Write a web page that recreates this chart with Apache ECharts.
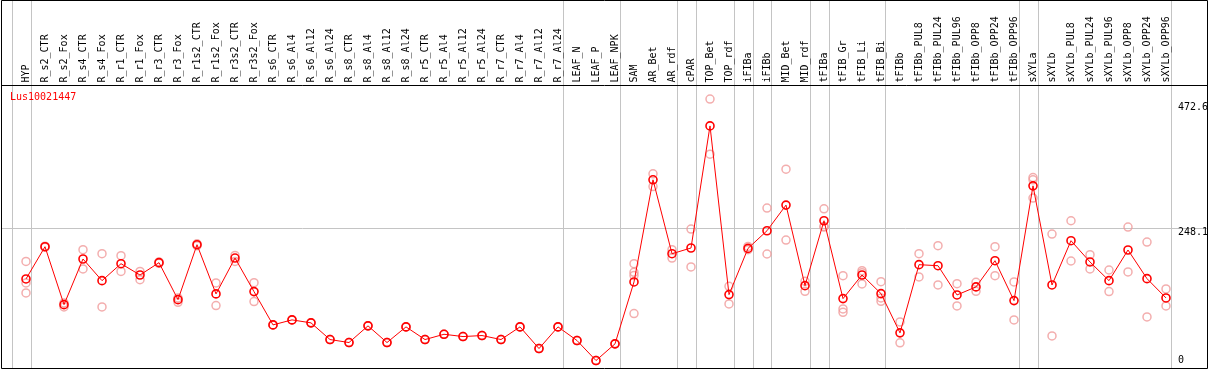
<!DOCTYPE html>
<html><head><meta charset="utf-8">
<script src="https://cdn.jsdelivr.net/npm/echarts@6/dist/echarts.min.js"></script>
<style>html,body{margin:0;padding:0;background:#fff}#c{width:1209px;height:370px}</style>
</head><body><div id="c"></div>
<script>
const chartTitle = 'Lus10021447';
const categories = ['HYP','R_s2_CTR','R_s2_Fox','R_s4_CTR','R_s4_Fox','R_r1_CTR','R_r1_Fox','R_r3_CTR','R_r3_Fox','R_r1s2_CTR','R_r1s2_Fox','R_r3s2_CTR','R_r3s2_Fox','R_s6_CTR','R_s6_Al4','R_s6_Al12','R_s6_Al24','R_s8_CTR','R_s8_Al4','R_s8_Al12','R_s8_Al24','R_r5_CTR','R_r5_Al4','R_r5_Al12','R_r5_Al24','R_r7_CTR','R_r7_Al4','R_r7_Al12','R_r7_Al24','LEAF_N','LEAF_P','LEAF_NPK','SAM','AR_Bet','AR_rdf','cPAR','TOP_Bet','TOP_rdf','iFIBa','iFIBb','MID_Bet','MID_rdf','tFIBa','tFIB_Gr','tFIB_Li','tFIB_Bi','tFIBb','tFIBb_PUL8','tFIBb_PUL24','tFIBb_PUL96','tFIBb_OPP8','tFIBb_OPP24','tFIBb_OPP96','sXYLa','sXYLb','sXYLb_PUL8','sXYLb_PUL24','sXYLb_PUL96','sXYLb_OPP8','sXYLb_OPP24','sXYLb_OPP96'];
const meanValues = [158.8,215.0,114.0,193.6,155.8,185.4,165.7,187.2,122.7,218.5,132.7,195.3,136.7,78.7,87.4,82.2,53.1,47.9,77.0,47.9,75.2,53.1,62.3,58.3,60.1,53.1,75.2,37.4,75.2,51.4,16.5,45.6,153.6,331.7,202.8,212.8,425.7,131.5,212.1,242.9,287.6,147.1,260.3,124.5,165.7,133.2,64.8,183.7,181.9,130.9,144.9,190.6,121.0,321.2,148.3,225.5,188.4,155.8,209.3,159.3,125.7];
const replicateValues = [
  [189.4,151.8,134.4],[214,216],[117.0,110.0],[209.8,176.2],[202.8,110.0],[199.3,172.0],[172.0,157.6],[188.5,186],[125.7,118.0],[220.2,216.8],
  [151.8,112.3],[199.9,189.4],[152.3,119.3],[78.7,78.7],[87.4,87.4],[82.2,82.2],[53.1,53.1],[47.9,47.9],[77.0,77.0],[47.9,47.9],
  [75.2,75.2],[53.1,53.1],[62.3,62.3],[58.3,58.3],[60.1,60.1],[53.1,53.1],[75.2,75.2],[37.4,37.4],[75.2,75.2],[51.4,51.4],
  [16.5,16.5],[45.6,45.6],[185.4,170.3,165.0,98.4],[342.1,320.0],[209.8,195.3],[245.8,179.7],[472.6,376.4],[145.9,115.3],[215.5,209.8],[282.4,202.3],
  [350.3,226.7],[154.6,137.2],[281.2,250.4,249.3],[164.5,106.5,100.6],[173.2,150.1,169.7],[154.1,125.7,119.8],[83.9,47.4],[202.8,162.3],[216.8,148.3],[150.6,111.8],
  [152.9,137.2],[215.0,164.5],[153.6,87.4],[335.7,331.7,299.8],[237.1,59.5],[260.3,190.1],[201.1,176.2],[174.4,136.7],[249.3,171.0],[223.2,92.6],
  [141.4,111.8]
];
const yTickLabels = [0, 248.1, 472.6];
const yAxisMax = 496.2;
const groupEnds = [-1, 0, 28, 31, 34, 35, 37, 38, 39, 41, 42, 45, 52, 53, 60];

const FONT = 'DejaVu Sans Mono';
const chart = echarts.init(document.getElementById('c'), null, {renderer: 'canvas'});
const repData = [];
replicateValues.forEach((arr, i) => arr.forEach(v => repData.push([i, v])));

chart.setOption({
  animation: false,
  backgroundColor: '#fff',
  grid: {left: 16.5, width: 1159, top: 85.5, bottom: -0.5, containLabel: false},
  xAxis: [
    {type: 'category', position: 'top', data: categories, boundaryGap: true,
     axisLine: {show: false}, axisTick: {show: false}, splitLine: {show: false},
     axisLabel: {rotate: 90, interval: 0, margin: 3, fontFamily: FONT, fontSize: 10, color: '#000'}},
    {type: 'value', min: -0.5, max: categories.length - 0.5, show: false}
  ],
  yAxis: {type: 'value', min: 0, max: yAxisMax, show: false, splitLine: {show: false}},
  series: [
    {type: 'scatter', xAxisIndex: 0, data: repData, symbol: 'circle', symbolSize: 8, z: 2,
     itemStyle: {color: 'rgba(0,0,0,0)', borderColor: '#f09a9a', borderWidth: 1.5}},
    {type: 'line', xAxisIndex: 0, data: meanValues, symbol: 'circle', symbolSize: 8, showSymbol: true, z: 3,
     lineStyle: {color: '#ff0000', width: 1},
     itemStyle: {color: 'rgba(0,0,0,0)', borderColor: '#ff0000', borderWidth: 1.6}}
  ]
});

const gfx = [];
const W = 1209;
// separators
groupEnds.forEach(i => {
  const x = Math.round(chart.convertToPixel({xAxisIndex: 1}, i + 0.5) - 5) + 0.5;
  gfx.push({type: 'line', z: 0, shape: {x1: x, y1: 0, x2: x, y2: 369}, style: {stroke: '#c4c4c4', lineWidth: 1}});
});
// gridline at middle tick
const gy = Math.round(chart.convertToPixel({yAxisIndex: 0}, yTickLabels[1])) + 0.5;
gfx.push({type: 'line', z: 0, shape: {x1: 1, y1: gy, x2: 1207, y2: gy}, style: {stroke: '#c4c4c4', lineWidth: 1}});
// y labels
yTickLabels.forEach((v, k) => {
  let y = chart.convertToPixel({yAxisIndex: 0}, v);
  let va = 'top';
  if (k === 0) { y = 365.5; va = 'bottom'; }
  else if (k === 2) { y = y + 3.5; }
  gfx.push({type: 'text', z: 50, x: 1178, y: y, style: {text: String(v), fill: '#000', font: '10px ' + FONT, textAlign: 'left', textVerticalAlign: va}});
});
// title
gfx.push({type: 'text', z: 50, x: 10, y: 97.5, style: {text: chartTitle, fill: '#ff0000', font: '10px ' + FONT, textAlign: 'left', textVerticalAlign: 'middle'}});
// borders
gfx.push({type: 'rect', z: 100, shape: {x: 1.5, y: 0.5, width: 1206, height: 368}, style: {fill: null, stroke: '#000', lineWidth: 1}});
gfx.push({type: 'line', z: 100, shape: {x1: 1, y1: 85.5, x2: 1208, y2: 85.5}, style: {stroke: '#000', lineWidth: 1}});
chart.setOption({graphic: gfx});
</script>
</body></html>
